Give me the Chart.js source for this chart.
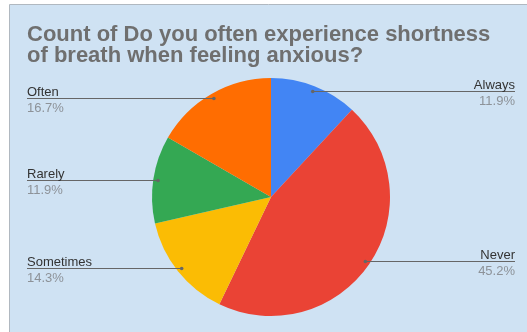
<!DOCTYPE html>
<html>
<head>
<meta charset="utf-8">
<script src="https://cdn.jsdelivr.net/npm/chart.js@4.4.1/dist/chart.umd.min.js"></script>
<style>
  body { margin: 0; background: #fff; }
  #wrap { position: relative; width: 527px; height: 332px; }
</style>
</head>
<body>
<div id="wrap"><canvas id="pieChart" width="527" height="332"></canvas></div>
<script>
// answers to the survey question, counts out of 42
var answers = ["Always", "Never", "Sometimes", "Rarely", "Often"];
var counts = [5, 19, 6, 5, 7];
var sliceColors = ["#4285f4", "#ea4335", "#fbbc04", "#34a853", "#ff6d01"];
var titleLines = ["Count of Do you often experience shortness", "of breath when feeling anxious?"];

// panel background + title, drawn before the pie
var framePlugin = {
  id: "frame",
  beforeDraw: function (chart) {
    var ctx = chart.ctx;
    ctx.save();
    ctx.fillStyle = "#ffffff";
    ctx.fillRect(0, 0, chart.width, chart.height);
    ctx.fillStyle = "#cfe2f3";
    ctx.fillRect(10, 5, chart.width - 10, chart.height - 5);
    ctx.strokeStyle = "#b0b8c0";
    ctx.lineWidth = 1;
    ctx.beginPath();
    ctx.moveTo(9.5, chart.height);
    ctx.lineTo(9.5, 4.5);
    ctx.lineTo(chart.width, 4.5);
    ctx.stroke();

    ctx.fillStyle = "#6f6f6f";
    ctx.font = "bold 22px 'Liberation Sans', Arial, sans-serif";
    ctx.textBaseline = "alphabetic";
    ctx.fillText(titleLines[0], 27, 41);
    ctx.fillText(titleLines[1], 27, 62);
    ctx.restore();
  }
};

// leader lines with name + percent, Google Sheets style
var labelPlugin = {
  id: "sideLabels",
  afterDatasetsDraw: function (chart) {
    var ctx = chart.ctx;
    var meta = chart.getDatasetMeta(0);
    var total = counts.reduce(function (a, b) { return a + b; }, 0);
    ctx.save();
    meta.data.forEach(function (arc, i) {
      var mid = (arc.startAngle + arc.endAngle) / 2;
      var r = arc.outerRadius * 0.96;
      var px = arc.x + Math.cos(mid) * r;
      var py = Math.round(arc.y + Math.sin(mid) * r) + 0.5;
      var right = px > arc.x;
      var edge = right ? 515 : 27;

      ctx.strokeStyle = "#666666";
      ctx.lineWidth = 1;
      ctx.beginPath();
      ctx.moveTo(px, py);
      ctx.lineTo(edge, py);
      ctx.stroke();
      ctx.fillStyle = "#666666";
      ctx.beginPath();
      ctx.arc(px, py, 1.8, 0, Math.PI * 2);
      ctx.fill();

      ctx.textAlign = right ? "right" : "left";
      ctx.font = "13px 'Liberation Sans', Arial, sans-serif";
      ctx.fillStyle = "#333333";
      ctx.textBaseline = "alphabetic";
      ctx.fillText(answers[i], edge, py - 3);
      ctx.fillStyle = "#8d9298";
      ctx.fillText((counts[i] / total * 100).toFixed(1) + "%", edge, py + 13);
    });
    ctx.restore();
  }
};

new Chart("pieChart", {
  type: "pie",
  data: {
    labels: answers,
    datasets: [{
      data: counts,
      backgroundColor: sliceColors,
      borderWidth: 0
    }]
  },
  options: {
    responsive: false,
    animation: false,
    layout: {
      padding: { top: 78, bottom: 16, left: 152, right: 137 }
    },
    plugins: {
      legend: { display: false },
      title: { display: false },
      tooltip: { enabled: false }
    }
  },
  plugins: [framePlugin, labelPlugin]
});
</script>
</body>
</html>
